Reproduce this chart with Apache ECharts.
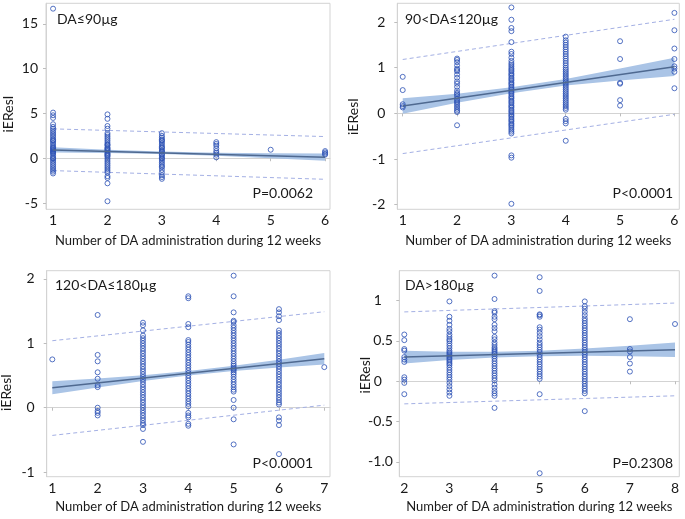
<!DOCTYPE html>
<html>
<head>
<meta charset="utf-8">
<script src="https://cdn.jsdelivr.net/npm/echarts@6/dist/echarts.min.js"></script>
<style>
html,body{margin:0;padding:0;background:#fff;}
#c{width:685px;height:519px;}
</style>
</head>
<body>
<div id="c"></div>
<script>
// ---------------- DATA ----------------
// Panel 1: DA<=90ug
const p1Title = 'DA≤90µg';
const p1P = 'P=0.0062';
const p1X = [1, 2, 3, 4, 5, 6];
const p1Values = [
  [16.7, 5.1, 4.8, 4.5, 3.8, 3.5, 3.3, 3.1, 2.9, 2.7, 2.5, 2.3, 2.1, 2.0, 1.9, 1.7, 1.5, 1.3, 1.2, 1.1, 1.0, 0.9, 0.8, 0.7, 0.6, 0.5, 0.3, 0.1, 0.0, -0.1, -0.3, -0.5, -0.7, -0.9, -1.1, -1.3, -1.5, -1.7],
  [4.9, 4.4, 3.6, 3.3, 2.8, 2.6, 2.4, 2.2, 2.0, 1.8, 1.6, 1.5, 1.4, 1.2, 1.1, 1.0, 0.9, 0.8, 0.6, 0.5, 0.4, 0.3, 0.2, 0.0, -0.2, -0.4, -0.6, -0.8, -1.0, -1.2, -1.4, -1.6, -2.0, -2.2, -2.8, -4.8],
  [2.8, 2.5, 2.3, 2.1, 2.0, 1.9, 1.7, 1.5, 1.3, 1.2, 1.1, 0.9, 0.8, 0.7, 0.5, 0.4, 0.3, 0.1, 0.0, -0.1, -0.3, -0.5, -0.7, -0.9, -1.0, -1.3, -1.6, -1.9, -2.1, -2.3],
  [1.8, 1.6, 1.4, 1.1, 0.8, 0.6, 0.4, 0.1],
  [0.95],
  [0.8, 0.65, 0.5, 0.4]
];
const p1FitX = [1, 6];
const p1Fit = [0.93, 0.12];
const p1PiUpper = [3.28, 2.42];
const p1PiLower = [-1.38, -2.35];
const p1BandLo = [0.63, 0.59, 0.48, 0.27, 0.01, -0.28];
const p1BandHi = [1.23, 0.95, 0.74, 0.61, 0.55, 0.52];
const p1YTicks = [-5, 0, 5, 10, 15];
const p1YLabels = ['-5', '0', '5', '10', '15'];

// Panel 2: 90<DA<=120ug
const p2Title = '90<DA≤120µg';
const p2P = 'P<0.0001';
const p2X = [1, 2, 3, 4, 5, 6];
const p2Values = [
  [0.80, 0.51, 0.20, 0.16, 0.13],
  [1.20, 1.17, 1.12, 1.05, 0.98, 0.95, 0.92, 0.85, 0.78, 0.70, 0.65, 0.58, 0.50, 0.45, 0.42, 0.38, 0.32, 0.28, 0.25, 0.22, 0.18, 0.14, 0.10, 0.06, 0.03, -0.26],
  [2.32, 2.05, 1.87, 1.80, 1.56, 1.35, 1.30, 1.22, 1.15, 1.10, 1.06, 1.02, 0.98, 0.95, 0.92, 0.88, 0.85, 0.82, 0.78, 0.75, 0.72, 0.68, 0.65, 0.62, 0.58, 0.55, 0.52, 0.48, 0.45, 0.42, 0.38, 0.35, 0.32, 0.28, 0.25, 0.22, 0.18, 0.15, 0.12, 0.08, 0.05, 0.02, -0.02, -0.05, -0.08, -0.12, -0.15, -0.18, -0.22, -0.25, -0.28, -0.32, -0.36, -0.40, -0.44, -0.92, -0.97, -1.98],
  [1.68, 1.60, 1.55, 1.50, 1.45, 1.40, 1.35, 1.30, 1.25, 1.20, 1.15, 1.10, 1.05, 1.00, 0.96, 0.92, 0.88, 0.84, 0.80, 0.76, 0.72, 0.68, 0.64, 0.60, 0.56, 0.52, 0.48, 0.44, 0.40, 0.36, 0.32, 0.28, 0.24, 0.20, 0.16, 0.12, 0.08, -0.12, -0.17, -0.22, -0.60],
  [1.58, 1.19, 0.67, 0.65, 0.29, 0.17],
  [2.20, 1.82, 1.42, 1.19, 1.03, 0.98, 0.91, 0.55]
];
const p2FitX = [1, 6];
const p2Fit = [0.16, 1.02];
const p2PiUpper = [1.18, 2.06];
const p2PiLower = [-0.88, -0.02];
const p2BandLo = [-0.01, 0.23, 0.44, 0.61, 0.72, 0.82];
const p2BandHi = [0.33, 0.43, 0.57, 0.75, 0.98, 1.22];
const p2YTicks = [-2, -1, 0, 1, 2];
const p2YLabels = ['-2', '-1', '0', '1', '2'];

// Panel 3: 120<DA<=180ug
const p3Title = '120<DA≤180µg';
const p3P = 'P<0.0001';
const p3X = [1, 2, 3, 4, 5, 6, 7];
const p3Values = [
  [0.75],
  [1.44, 0.82, 0.72, 0.55, 0.45, 0.35, 0.32, 0.0, -0.05, -0.08, -0.12],
  [1.32, 1.28, 1.20, 1.12, 1.08, 1.04, 1.00, 0.96, 0.92, 0.88, 0.84, 0.80, 0.76, 0.72, 0.68, 0.64, 0.60, 0.56, 0.52, 0.48, 0.44, 0.40, 0.36, 0.32, 0.28, 0.24, 0.20, 0.16, 0.12, 0.08, 0.04, 0.00, -0.04, -0.08, -0.12, -0.16, -0.20, -0.24, -0.27, -0.33, -0.53],
  [1.73, 1.70, 1.30, 1.25, 1.05, 1.02, 0.98, 0.94, 0.90, 0.86, 0.82, 0.78, 0.74, 0.70, 0.66, 0.62, 0.58, 0.54, 0.50, 0.46, 0.42, 0.38, 0.34, 0.30, 0.26, 0.22, 0.18, 0.14, 0.10, 0.06, 0.02, -0.08, -0.12, -0.15, -0.25, -0.28],
  [2.05, 1.73, 1.48, 1.35, 1.33, 1.28, 1.24, 1.20, 1.16, 1.12, 1.08, 1.04, 1.00, 0.96, 0.92, 0.88, 0.84, 0.80, 0.76, 0.72, 0.68, 0.65, 0.62, 0.60, 0.58, 0.55, 0.52, 0.48, 0.44, 0.40, 0.36, 0.32, 0.28, 0.25, 0.12, 0.0, -0.18, -0.57],
  [1.53, 1.48, 1.42, 1.36, 1.20, 1.16, 1.12, 1.08, 1.04, 1.00, 0.96, 0.92, 0.88, 0.84, 0.80, 0.76, 0.72, 0.68, 0.64, 0.60, 0.56, 0.52, 0.48, 0.44, 0.40, 0.36, 0.32, 0.28, 0.24, 0.20, 0.16, 0.12, 0.08, 0.05, -0.15, -0.20, -0.27, -0.72],
  [0.63]
];
const p3FitX = [1, 7];
const p3Fit = [0.31, 0.76];
const p3PiUpper = [1.04, 1.49];
const p3PiLower = [-0.43, 0.04];
const p3BandLo = [0.21, 0.315, 0.415, 0.50, 0.57, 0.625, 0.67];
const p3BandHi = [0.41, 0.455, 0.505, 0.57, 0.65, 0.745, 0.85];
const p3YTicks = [-1, 0, 1, 2];
const p3YLabels = ['-1', '0', '1', '2'];

// Panel 4: DA>180ug
const p4Title = 'DA>180µg';
const p4P = 'P=0.2308';
const p4X = [2, 3, 4, 5, 6, 7, 8];
const p4Values = [
  [0.58, 0.51, 0.40, 0.38, 0.30, 0.27, 0.24, 0.05, 0.02, -0.02, -0.16],
  [0.99, 0.80, 0.75, 0.70, 0.65, 0.62, 0.58, 0.55, 0.52, 0.50, 0.47, 0.44, 0.41, 0.38, 0.36, 0.34, 0.32, 0.30, 0.28, 0.26, 0.24, 0.22, 0.20, 0.17, 0.14, 0.11, 0.08, 0.05, 0.02, -0.02, -0.06, -0.10, -0.14, -0.18],
  [1.31, 1.02, 0.87, 0.85, 0.80, 0.77, 0.70, 0.66, 0.62, 0.55, 0.52, 0.48, 0.45, 0.42, 0.40, 0.38, 0.36, 0.34, 0.31, 0.28, 0.25, 0.22, 0.19, 0.16, 0.13, 0.10, 0.07, 0.04, 0.01, -0.04, -0.08, -0.12, -0.15, -0.18, -0.33],
  [1.29, 1.12, 0.83, 0.82, 0.80, 0.67, 0.64, 0.60, 0.56, 0.52, 0.48, 0.45, 0.42, 0.39, 0.36, 0.33, 0.30, 0.27, 0.24, 0.21, 0.18, 0.15, 0.12, 0.09, 0.06, 0.03, -0.16, -1.14],
  [0.99, 0.93, 0.90, 0.86, 0.82, 0.78, 0.75, 0.72, 0.69, 0.66, 0.63, 0.60, 0.57, 0.54, 0.51, 0.48, 0.45, 0.42, 0.39, 0.36, 0.33, 0.30, 0.27, 0.24, 0.21, 0.18, 0.15, 0.12, 0.09, 0.06, 0.03, 0.00, -0.03, -0.06, -0.09, -0.12, -0.15, -0.37],
  [0.77, 0.40, 0.37, 0.30, 0.22, 0.12],
  [0.71]
];
const p4FitX = [2, 8];
const p4Fit = [0.30, 0.39];
const p4PiUpper = [0.86, 0.97];
const p4PiLower = [-0.28, -0.18];
const p4BandLo = [0.22, 0.265, 0.295, 0.31, 0.315, 0.31, 0.30];
const p4BandHi = [0.38, 0.365, 0.365, 0.38, 0.405, 0.44, 0.48];
const p4YTicks = [-1, -0.5, 0, 0.5, 1];
const p4YLabels = ['-1.0', '-0.5', '0', '0.5', '1'];

const xName = 'Number of DA administration during 12 weeks';
const yName = 'iEResI';

// ---------------- STYLE / LAYOUT ----------------
const FONT = 'Lato';
const FS = 13;
const FST = 14;
const TXT = '#1a1a1a';
const FRAME = '#d3d3d3';
const PT = '#2a50b4';
const FIT = '#4f6990';
const BAND = '#aac4e6';
const PI = '#a4b0e4';

const panels = [
  {title: p1Title, p: p1P, xs: p1X, vals: p1Values, fitX: p1FitX, fit: p1Fit, piU: p1PiUpper, piL: p1PiLower, lo: p1BandLo, hi: p1BandHi, yt: p1YTicks, yl: p1YLabels,
   grid: {left: 46, top: 3.3, width: 284, height: 206}, xr: [0.87, 6.09], yr: [-5.7, 17.3], ylm: 8, xlm: 4,
   titlePos: [57, 20.5], pPos: [313, 193.5], yNamePos: [8.3, 114]},
  {title: p2Title, p: p2P, xs: p2X, vals: p2Values, fitX: p2FitX, fit: p2Fit, piU: p2PiUpper, piL: p2PiLower, lo: p2BandLo, hi: p2BandHi, yt: p2YTicks, yl: p2YLabels,
   grid: {left: 397.3, top: 3.3, width: 282, height: 206}, xr: [0.90, 6.09], yr: [-2.10, 2.41], ylm: 12, xlm: 4,
   titlePos: [405, 20.5], pPos: [673, 193.5], yNamePos: [353, 116.5]},
  {title: p3Title, p: p3P, xs: p3X, vals: p3Values, fitX: p3FitX, fit: p3Fit, piU: p3PiUpper, piL: p3PiLower, lo: p3BandLo, hi: p3BandHi, yt: p3YTicks, yl: p3YLabels,
   grid: {left: 46.7, top: 270.7, width: 283.3, height: 206}, xr: [0.876, 7.126], yr: [-1.071, 2.127], ylm: 12, xlm: 5,
   titlePos: [55, 286.7], pPos: [313, 463], yNamePos: [6.7, 392.5]},
  {title: p4Title, p: p4P, xs: p4X, vals: p4Values, fitX: p4FitX, fit: p4Fit, piU: p4PiUpper, piL: p4PiLower, lo: p4BandLo, hi: p4BandHi, yt: p4YTicks, yl: p4YLabels,
   grid: {left: 399.3, top: 270.7, width: 280, height: 206}, xr: [1.889, 8.095], yr: [-1.183, 1.371], ylm: 6.5, xlm: 5, decimal: true,
   titlePos: [405, 286.7], pPos: [673, 463], yNamePos: [365, 375]}
];

const txtStyle = {fontFamily: FONT, fontSize: FS, color: TXT};
const tickStyle = {fontFamily: FONT, fontSize: FST, color: TXT};

const grid = [], xAxis = [], yAxis = [], series = [], graphic = [];

panels.forEach((P, i) => {
  grid.push(Object.assign({show: true, borderColor: FRAME, borderWidth: 1, backgroundColor: '#fff'}, P.grid));
  xAxis.push({
    type: 'value', gridIndex: i, min: P.xr[0], max: P.xr[1],
    splitLine: {show: false},
    axisLine: {show: true, lineStyle: {color: FRAME}},
    axisTick: {show: true, length: 3, lineStyle: {color: '#bdbdbd'}, customValues: P.xs},
    axisLabel: Object.assign({margin: P.xlm, customValues: P.xs, formatter: v => String(v)}, tickStyle),
    name: xName, nameLocation: 'middle', nameGap: i < 2 ? 25 : 24, nameTextStyle: txtStyle
  });
  const labelFor = v => { const k = P.yt.indexOf(v); return k >= 0 ? P.yl[k] : ''; };
  const yLab = {margin: P.ylm, customValues: P.yt};
  if (P.decimal) {
    yLab.formatter = v => { const s = labelFor(v); return s.indexOf('.') >= 0 ? '{d|' + s + '}' : '{n|' + s + '}'; };
    yLab.rich = {d: Object.assign({}, tickStyle), n: Object.assign({padding: [0, 11, 0, 0]}, tickStyle)};
  } else {
    yLab.formatter = v => labelFor(v);
  }
  yAxis.push({
    type: 'value', gridIndex: i, min: P.yr[0], max: P.yr[1],
    splitLine: {show: false},
    axisLine: {show: true, lineStyle: {color: FRAME}},
    axisTick: {show: true, length: 3, lineStyle: {color: '#bdbdbd'}, customValues: P.yt},
    axisLabel: Object.assign(yLab, tickStyle)
  });

  // confidence band
  const bandData = P.xs.map((x, k) => [x, P.lo[k], P.hi[k]]);
  series.push({
    type: 'custom', xAxisIndex: i, yAxisIndex: i, silent: true, z: 1,
    data: bandData, encode: {x: 0, y: [1, 2]},
    renderItem: (params, api) => {
      if (params.dataIndex !== 0) return null;
      const top = bandData.map(r => api.coord([r[0], r[2]]));
      const bot = bandData.map(r => api.coord([r[0], r[1]])).reverse();
      return {type: 'polygon', shape: {points: top.concat(bot)}, style: {fill: BAND}};
    }
  });
  // prediction limits
  [P.piU, P.piL].forEach(arr => {
    series.push({
      type: 'line', xAxisIndex: i, yAxisIndex: i, silent: true, z: 2, symbol: 'none',
      data: P.fitX.map((x, k) => [x, arr[k]]),
      lineStyle: {color: PI, width: 1, type: [4, 3]}
    });
  });
  // points
  const pts = [];
  P.xs.forEach((x, k) => P.vals[k].forEach(v => pts.push([x, v])));
  series.push({
    type: 'scatter', xAxisIndex: i, yAxisIndex: i, silent: true, z: 3,
    symbol: 'circle', symbolSize: 5, data: pts,
    itemStyle: {color: 'rgba(0,0,0,0)', borderColor: PT, borderWidth: 1}
  });
  // fit line
  series.push({
    type: 'line', xAxisIndex: i, yAxisIndex: i, silent: true, z: 4, symbol: 'none',
    data: P.fitX.map((x, k) => [x, P.fit[k]]),
    lineStyle: {color: FIT, width: 1.5}
  });

  graphic.push({type: 'text', left: P.titlePos[0], top: P.titlePos[1] - 8, z: 10,
    style: {text: P.title, font: FST + 'px ' + FONT, fill: TXT}});
  graphic.push({type: 'text', x: P.pPos[0], y: P.pPos[1], z: 10,
    style: {text: P.p, font: FST + 'px ' + FONT, fill: TXT, align: 'right', verticalAlign: 'middle'}});
  graphic.push({type: 'text', x: P.yNamePos[0], y: P.yNamePos[1], rotation: Math.PI / 2, z: 10,
    style: {text: yName, font: FST + 'px ' + FONT, fill: TXT, align: 'center', verticalAlign: 'middle'}});
});

const chart = echarts.init(document.getElementById('c'), null, {renderer: 'canvas'});
chart.setOption({animation: false, backgroundColor: '#fff', grid, xAxis, yAxis, series, graphic});
</script>
</body>
</html>
